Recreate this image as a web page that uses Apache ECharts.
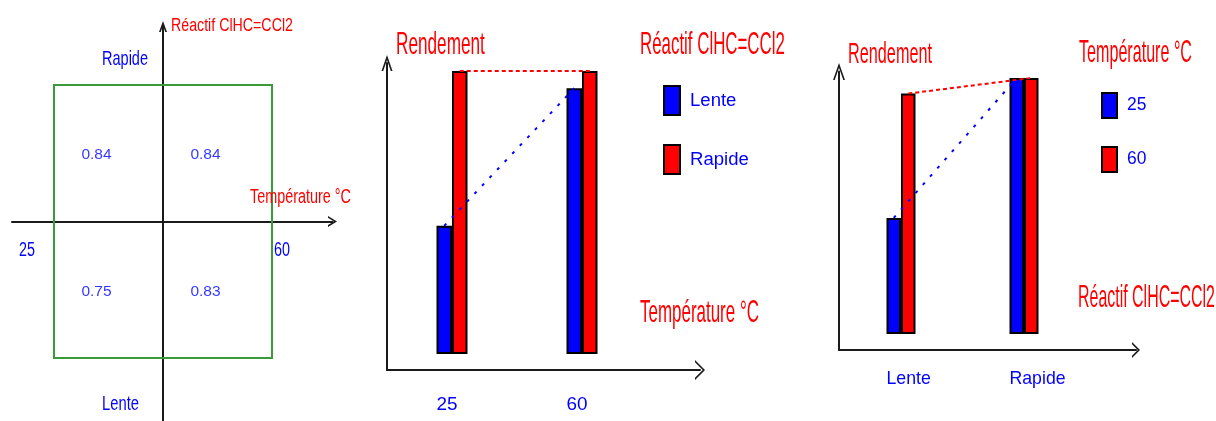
<!DOCTYPE html>
<html><head><meta charset="utf-8">
<script src="https://cdn.jsdelivr.net/npm/echarts@6/dist/echarts.min.js"></script>
<style>html,body{margin:0;padding:0;background:#fff;overflow:hidden}#chart{width:1216px;height:421px}</style>
</head><body><div id="chart"></div>
<script>
// ---------------- data ----------------
const temperatures = ['25', '60'];            // Température °C
const reactifSpeeds = ['Lente', 'Rapide'];     // addition du réactif ClHC=CCl2
const rendementLente = [0.75, 0.83];           // rendement, addition lente, à 25 / 60 °C
const rendementRapide = [0.84, 0.84];          // rendement, addition rapide, à 25 / 60 °C
const yieldAxisMin = 0.676;
const yieldAxisMax = 0.84;
const titleRendement = 'Rendement';
const titleReactif = 'Réactif ClHC=CCl2';
const titleTemperature = 'Température °C';

// per temperature: [Lente, Rapide]
const rendementByTemp = temperatures.map((t, ti) => [rendementLente[ti], rendementRapide[ti]]);

// ---------------- styling helpers ----------------
const BLUE = '#0000ff', RED = '#ff0000', GREEN = '#3a9a3a', AX = '#1a1a1a';
const ctx = document.createElement('canvas').getContext('2d');
function measure(text, fam) { ctx.font = '100px ' + fam; return ctx.measureText(text).width / 100; }
const probe = 'Rendement Réactif 0123';
const hasNarrow = Math.abs(measure(probe, '"Liberation Sans Narrow", monospace') - measure(probe, 'monospace')) > 0.01;
const FAM = hasNarrow ? '"Liberation Sans Narrow", "Liberation Sans", sans-serif' : '"Liberation Sans", Arial, sans-serif';
const fit = (text, w) => w / measure(text, FAM);
const CAP = 0.716;
const GROW = 1.08; // texts that cannot be stretched vertically are made a bit larger

function chevron(w, h) {
  const T = 1.6;
  const L = Math.sqrt(h * h + w * w / 4);
  const d = T * L / h, e = T * L / (w / 2);
  return `path://M0,${h} L${w / 2},0 L${w},${h} L${w - d},${h} L${w / 2},${e} L${d},${h} Z`;
}
function decorAxis(gridIndex, min, max, w, h) {
  return {
    gridIndex, type: 'value', min, max, silent: true,
    axisLine: { show: true, onZero: true, symbol: ['none', chevron(w, h)], symbolSize: [w, h],
      lineStyle: { color: AX, width: 2 } },
    axisTick: { show: false }, axisLabel: { show: false }, splitLine: { show: false }
  };
}
function label(text, color, x, cy, w, cap) {
  const s = fit(text, w);
  return {
    type: 'text', x, y: cy, scaleY: cap / (CAP * s), silent: true, z: 100,
    style: { text, fill: color, font: `${s.toFixed(2)}px ${FAM}`, textAlign: 'left', textVerticalAlign: 'middle' }
  };
}
function catLabel(size, boxW, centerFromGrid) {
  const lh = Math.round(size);
  return {
    show: true, color: BLUE, margin: centerFromGrid - lh / 2,
    formatter: v => `{a|${v}}`,
    rich: { a: { width: boxW, align: 'left', color: BLUE, fontSize: size, fontFamily: FAM, lineHeight: lh } }
  };
}
function markLink(color, dash, vals) {
  return {
    silent: true, symbol: ['none', 'none'], label: { show: false }, emphasis: { disabled: true },
    lineStyle: { color, type: dash, width: 2, opacity: 1 },
    data: [[{ coord: [0, vals[0]] }, { coord: [1, vals[1]] }]]
  };
}
const barStyle = color => ({ color, borderColor: '#000', borderWidth: 2 });

// quadrant diagram points: x = temperature side, y = speed side
const quadrantData = [];
reactifSpeeds.forEach((sp, si) => {
  temperatures.forEach((t, ti) => {
    const v = si === 0 ? rendementLente[ti] : rendementRapide[ti];
    quadrantData.push([ti === 0 ? -0.5 : 0.5, si === 0 ? -0.5 : 0.5, v]);
  });
});

const sV = fit('0.84', 28) * GROW;
const s2 = fit(temperatures[0], 19.5) * GROW;
const s3 = fit(reactifSpeeds[0], 41) * GROW;
const sL2 = fit(reactifSpeeds[0], 43) * GROW;
const sL3 = fit(temperatures[0], 18) * GROW;

const chart = echarts.init(document.getElementById('chart'), null, { renderer: 'canvas' });
chart.setOption({
  animation: false,
  backgroundColor: '#ffffff',
  grid: [
    { left: 12, top: 26.5, width: 320.5, height: 394.5, outerBoundsMode: 'none' },
    { left: 387, top: 63, width: 313, height: 307, outerBoundsMode: 'none' },
    { left: 387, top: 71, width: 260, height: 282, outerBoundsMode: 'none' },
    { left: 839, top: 71.5, width: 297, height: 278.5, outerBoundsMode: 'none' },
    { left: 839.5, top: 78, width: 246, height: 255, outerBoundsMode: 'none' }
  ],
  xAxis: [
    decorAxis(0, -1.38532, 1.55505, 11, 9),
    decorAxis(1, 0, 1, 20, 10),
    { gridIndex: 2, type: 'category', data: temperatures, axisLine: { show: false }, axisTick: { show: false },
      splitLine: { show: false }, axisLabel: catLabel(s2, 31, 51.5) },
    decorAxis(3, 0, 1, 16, 8),
    { gridIndex: 4, type: 'category', data: reactifSpeeds, axisLine: { show: false }, axisTick: { show: false },
      splitLine: { show: false }, axisLabel: catLabel(s3, 29, 46.5) }
  ],
  yAxis: [
    decorAxis(0, -1.46154, 1.42857, 8, 11),
    decorAxis(1, 0, 1, 11, 16),
    { gridIndex: 2, type: 'value', min: yieldAxisMin, max: yieldAxisMax, show: false },
    decorAxis(3, 0, 1, 12, 17),
    { gridIndex: 4, type: 'value', min: yieldAxisMin, max: yieldAxisMax, show: false }
  ],
  legend: [
    { data: reactifSpeeds, orient: 'vertical', left: 663, top: 85, padding: 0, itemWidth: 16, itemHeight: 29,
      itemGap: 28, icon: 'rect', selectedMode: false,
      itemStyle: { borderColor: '#000', borderWidth: 2 },
      textStyle: { color: BLUE, fontSize: sL2, fontFamily: FAM, padding: [0, 0, 0, 5] } },
    { data: temperatures, orient: 'vertical', left: 1101, top: 92, padding: 0, itemWidth: 15, itemHeight: 25,
      itemGap: 27, icon: 'rect', selectedMode: false,
      itemStyle: { borderColor: '#000', borderWidth: 2 },
      textStyle: { color: BLUE, fontSize: sL3, fontFamily: FAM, padding: [0, 0, 0, 5] } }
  ],
  series: [
    { name: 'valeurs', type: 'scatter', xAxisIndex: 0, yAxisIndex: 0, symbolSize: 0, silent: true,
      data: quadrantData,
      label: { show: true, position: 'inside', offset: [-12, 1.5], formatter: p => p.value[2].toFixed(2),
        color: BLUE, fontSize: sV, fontFamily: FAM },
      markArea: { silent: true, itemStyle: { color: 'rgba(0,0,0,0)', borderColor: GREEN, borderWidth: 2 },
        data: [[{ coord: [-1, 1] }, { coord: [1, -1] }]] } },
    { name: reactifSpeeds[0], type: 'bar', xAxisIndex: 2, yAxisIndex: 2, data: rendementLente,
      barWidth: 15.5, barGap: '0%', itemStyle: barStyle(BLUE), markLine: markLink(BLUE, [3, 8], rendementLente) },
    { name: reactifSpeeds[1], type: 'bar', xAxisIndex: 2, yAxisIndex: 2, data: rendementRapide,
      barWidth: 15.5, barGap: '0%', itemStyle: barStyle(RED), markLine: markLink(RED, [4, 3], rendementRapide) },
    { name: temperatures[0], type: 'bar', xAxisIndex: 4, yAxisIndex: 4, data: rendementByTemp[0],
      barWidth: 14.5, barGap: '0%', itemStyle: barStyle(BLUE), markLine: markLink(BLUE, [3, 8], rendementByTemp[0]) },
    { name: temperatures[1], type: 'bar', xAxisIndex: 4, yAxisIndex: 4, data: rendementByTemp[1],
      barWidth: 14.5, barGap: '0%', itemStyle: barStyle(RED), markLine: markLink(RED, [4, 3], rendementByTemp[1]) }
  ],
  graphic: [
    // panel 1
    label(titleReactif, RED, 171, 25.5, 122, 13.3),
    label(reactifSpeeds[1], BLUE, 102, 59.5, 46, 14.5),
    label(titleTemperature, RED, 250, 197.5, 101, 15),
    label(temperatures[0], BLUE, 19, 250, 16, 14.5),
    label(temperatures[1], BLUE, 274, 250, 16, 14.5),
    label(reactifSpeeds[0], BLUE, 102, 404.5, 37, 14.5),
    // panel 2
    label(titleRendement, RED, 396, 45, 89, 23),
    label(titleReactif, RED, 640, 45, 145, 23),
    label(titleTemperature, RED, 640, 313.5, 119, 23),
    // panel 3
    label(titleRendement, RED, 848, 55, 84, 20.7),
    label(titleTemperature, RED, 1079, 54, 113, 22),
    label(titleReactif, RED, 1078, 298.5, 137, 22.5)
  ]
});
</script>
</body></html>
